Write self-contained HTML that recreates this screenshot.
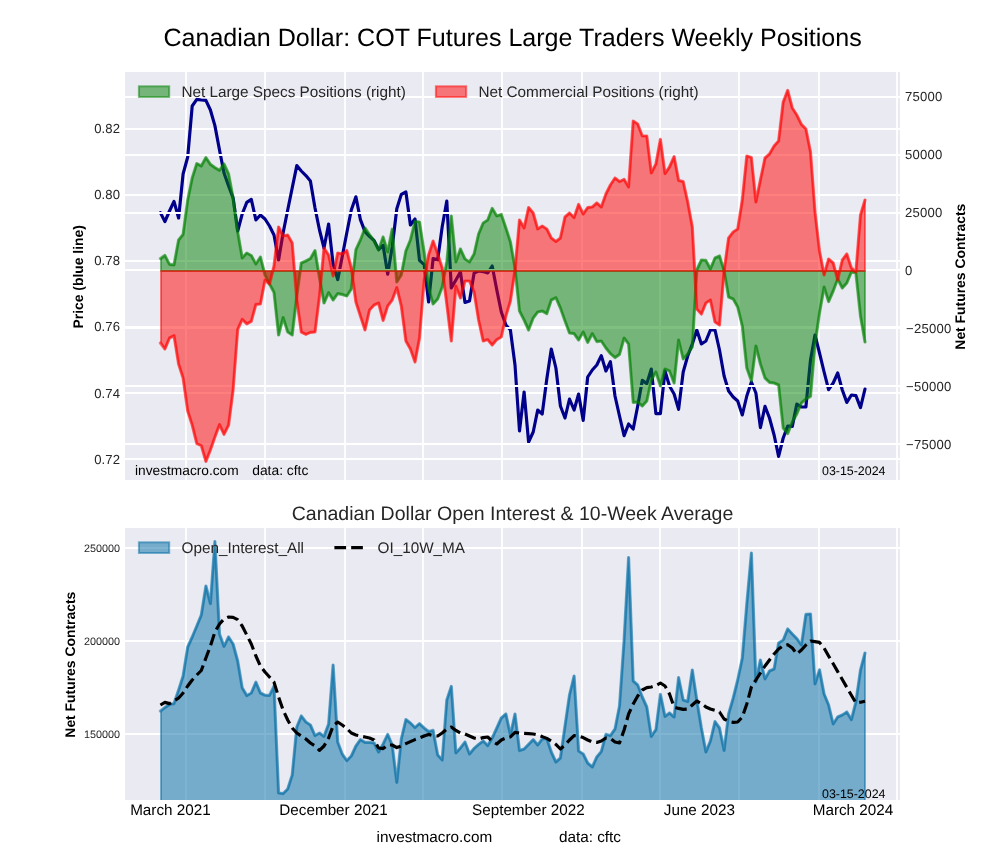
<!DOCTYPE html>
<html><head><meta charset="utf-8"><title>Canadian Dollar COT</title>
<style>
html,body{margin:0;padding:0;background:#fff;}
body{width:1000px;height:860px;overflow:hidden;}
svg{display:block;}
svg text{text-rendering:geometricPrecision;}
text{font-family:"Liberation Sans",sans-serif;fill:#262626;}
.b{font-weight:bold;fill:#000;}
.k{fill:#000;}
</style></head><body>
<svg width="1000" height="860" viewBox="0 0 1000 860">
<rect width="1000" height="860" fill="#fff"/>
<defs>
<mask id="mm" maskUnits="userSpaceOnUse" x="0" y="0" width="1000" height="860"><rect width="1000" height="860" fill="#fff"/></mask>
<clipPath id="c1"><rect x="125" y="72" width="775" height="408"/></clipPath>
<clipPath id="c2"><rect x="125" y="528" width="775" height="272"/></clipPath>
</defs>

<rect x="125" y="72" width="775" height="408" fill="#EAEAF2"/>
<g clip-path="url(#c1)">
<g stroke="#fff" stroke-width="1.8" fill="none">
<line x1="186" y1="72" x2="186" y2="480"/>
<line x1="265" y1="72" x2="265" y2="480"/>
<line x1="345" y1="72" x2="345" y2="480"/>
<line x1="423" y1="72" x2="423" y2="480"/>
<line x1="502" y1="72" x2="502" y2="480"/>
<line x1="582" y1="72" x2="582" y2="480"/>
<line x1="660" y1="72" x2="660" y2="480"/>
<line x1="739" y1="72" x2="739" y2="480"/>
<line x1="819" y1="72" x2="819" y2="480"/>
<line x1="897" y1="72" x2="897" y2="480"/>
<line x1="125" y1="129" x2="900" y2="129"/>
<line x1="125" y1="195" x2="900" y2="195"/>
<line x1="125" y1="261" x2="900" y2="261"/>
<line x1="125" y1="327" x2="900" y2="327"/>
<line x1="125" y1="393" x2="900" y2="393"/>
<line x1="125" y1="459" x2="900" y2="459"/>
</g>
<polyline points="160.4,212.6 164.9,221.6 169.5,211.0 174.0,201.4 178.6,218.0 183.1,174.0 187.7,157.0 192.2,106.0 196.8,99.4 201.3,100.0 205.9,100.4 210.4,110.0 214.9,125.6 219.5,150.0 224.0,173.0 228.6,186.0 233.1,198.0 237.7,231.0 242.2,214.0 246.8,202.4 251.3,199.4 255.9,220.0 260.4,215.0 265.0,219.0 269.5,226.0 274.0,235.0 278.6,260.0 283.1,233.0 287.7,210.0 292.2,188.0 296.8,165.6 301.3,171.0 305.9,175.6 310.4,181.0 315.0,208.0 319.5,230.0 324.0,248.0 328.6,224.0 333.1,264.0 337.7,279.6 342.2,256.8 346.8,232.8 351.3,210.0 355.9,196.8 360.4,219.6 365.0,231.6 369.5,236.4 374.1,240.6 378.6,249.6 383.1,245.4 387.7,274.2 392.2,247.0 396.8,208.8 401.3,194.4 405.9,192.0 410.4,225.0 415.0,219.0 419.5,260.4 424.1,264.6 428.6,302.0 433.1,258.6 437.7,259.8 442.2,226.8 446.8,201.0 451.3,288.0 455.9,280.0 460.4,272.0 465.0,302.4 469.5,301.0 474.1,273.0 478.6,271.0 483.2,271.6 487.7,273.0 492.2,266.0 496.8,290.0 501.3,312.0 505.9,325.0 510.4,330.0 515.0,365.0 519.5,431.0 524.1,392.0 528.6,442.0 533.2,432.0 537.7,410.0 542.2,414.0 546.8,379.0 551.3,349.0 555.9,368.0 560.4,406.0 565.0,418.0 569.5,399.0 574.1,410.0 578.6,394.0 583.2,420.4 587.7,377.0 592.3,370.0 596.8,365.0 601.3,355.6 605.9,371.0 610.4,361.6 615.0,396.0 619.5,416.0 624.1,435.6 628.6,424.0 633.2,429.0 637.7,406.0 642.3,380.4 646.8,383.6 651.3,369.0 655.9,413.6 660.4,413.6 665.0,371.0 669.5,386.0 674.1,394.0 678.6,409.4 683.2,372.0 687.7,356.0 692.3,344.0 696.8,330.0 701.4,344.0 705.9,341.0 710.4,330.0 715.0,330.0 719.5,350.0 724.1,376.0 728.6,391.0 733.2,397.0 737.7,401.0 742.3,415.0 746.8,396.0 751.4,382.0 755.9,393.0 760.4,427.6 765.0,406.4 769.5,418.0 774.1,435.0 778.6,456.4 783.2,438.0 787.7,426.0 792.3,426.4 796.8,404.0 801.4,407.0 805.9,407.0 810.5,360.0 815.0,335.0 819.5,353.0 824.1,372.0 828.6,389.6 833.2,383.0 837.7,373.0 842.3,390.0 846.8,402.4 851.4,395.0 855.9,395.6 860.5,407.6 865.0,389.0" fill="none" stroke="#00008B" stroke-width="3.16" stroke-linejoin="round" stroke-linecap="round"/>
<g stroke="#fff" stroke-width="1.8" fill="none">
<line x1="125" y1="97" x2="900" y2="97"/>
<line x1="125" y1="155" x2="900" y2="155"/>
<line x1="125" y1="213" x2="900" y2="213"/>
<line x1="125" y1="270" x2="900" y2="270"/>
<line x1="125" y1="328" x2="900" y2="328"/>
<line x1="125" y1="386" x2="900" y2="386"/>
<line x1="125" y1="444" x2="900" y2="444"/>
</g>
<polygon points="161.0,271.0 161.0,258.6 164.9,255.4 169.5,264.4 174.0,265.0 178.6,240.0 183.1,234.4 187.7,200.0 192.2,178.0 196.8,163.6 201.3,166.0 205.9,157.6 210.4,164.4 214.9,167.6 219.5,170.4 224.0,164.0 228.6,174.0 233.1,198.0 237.7,232.0 242.2,258.0 246.8,253.0 251.3,255.6 255.9,264.0 260.4,257.0 265.0,275.0 269.5,284.0 274.0,292.4 278.6,335.0 283.1,317.6 287.7,332.0 292.2,335.0 296.8,296.0 301.3,263.0 305.9,261.0 310.4,258.6 315.0,250.6 319.5,278.0 324.0,303.0 328.6,292.6 333.1,300.0 337.7,293.6 342.2,294.4 346.8,296.0 351.3,289.0 355.9,249.6 360.4,240.0 365.0,228.0 369.5,234.6 374.1,240.6 378.6,250.0 383.1,237.0 387.7,252.0 392.2,229.2 396.8,282.0 401.3,275.0 405.9,250.8 410.4,240.0 415.0,221.4 419.5,222.0 424.1,252.0 428.6,288.0 433.1,304.0 437.7,299.0 442.2,287.0 446.8,262.0 451.3,216.0 455.9,262.0 460.4,249.0 465.0,259.0 469.5,262.0 474.1,254.0 478.6,234.0 483.2,223.0 487.7,220.0 492.2,208.4 496.8,216.0 501.3,214.4 505.9,228.0 510.4,242.0 515.0,268.0 519.5,311.0 524.1,320.0 528.6,330.0 533.2,318.0 537.7,312.0 542.2,311.0 546.8,313.6 551.3,300.0 555.9,297.6 560.4,308.0 565.0,321.0 569.5,333.0 574.1,333.6 578.6,340.0 583.2,332.0 587.7,342.4 592.3,333.6 596.8,341.6 601.3,341.0 605.9,348.0 610.4,353.6 615.0,357.6 619.5,354.4 624.1,338.0 628.6,344.0 633.2,402.4 637.7,402.0 642.3,406.0 646.8,401.0 651.3,380.0 655.9,372.0 660.4,386.0 665.0,369.0 669.5,371.0 674.1,383.0 678.6,340.0 683.2,359.0 687.7,354.0 692.3,347.0 696.8,270.0 701.4,260.0 705.9,260.4 710.4,269.0 715.0,258.0 719.5,256.0 724.1,270.6 728.6,297.0 733.2,299.0 737.7,307.0 742.3,326.0 746.8,368.0 751.4,381.0 755.9,346.0 760.4,364.0 765.0,378.0 769.5,382.4 774.1,383.0 778.6,385.0 783.2,428.0 787.7,433.6 792.3,422.0 796.8,414.0 801.4,403.0 805.9,399.0 810.5,396.4 815.0,344.0 819.5,313.0 824.1,287.0 828.6,301.6 833.2,291.0 837.7,279.0 842.3,288.0 846.8,283.0 851.4,272.0 855.9,273.0 860.5,316.0 865.0,342.0 865.0,271.0" fill="#008000" fill-opacity="0.5" stroke="#008000" stroke-opacity="0.5" stroke-width="2.0" stroke-linejoin="round"/>
<polyline points="160.4,258.6 164.9,255.4 169.5,264.4 174.0,265.0 178.6,240.0 183.1,234.4 187.7,200.0 192.2,178.0 196.8,163.6 201.3,166.0 205.9,157.6 210.4,164.4 214.9,167.6 219.5,170.4 224.0,164.0 228.6,174.0 233.1,198.0 237.7,232.0 242.2,258.0 246.8,253.0 251.3,255.6 255.9,264.0 260.4,257.0 265.0,275.0 269.5,284.0 274.0,292.4 278.6,335.0 283.1,317.6 287.7,332.0 292.2,335.0 296.8,296.0 301.3,263.0 305.9,261.0 310.4,258.6 315.0,250.6 319.5,278.0 324.0,303.0 328.6,292.6 333.1,300.0 337.7,293.6 342.2,294.4 346.8,296.0 351.3,289.0 355.9,249.6 360.4,240.0 365.0,228.0 369.5,234.6 374.1,240.6 378.6,250.0 383.1,237.0 387.7,252.0 392.2,229.2 396.8,282.0 401.3,275.0 405.9,250.8 410.4,240.0 415.0,221.4 419.5,222.0 424.1,252.0 428.6,288.0 433.1,304.0 437.7,299.0 442.2,287.0 446.8,262.0 451.3,216.0 455.9,262.0 460.4,249.0 465.0,259.0 469.5,262.0 474.1,254.0 478.6,234.0 483.2,223.0 487.7,220.0 492.2,208.4 496.8,216.0 501.3,214.4 505.9,228.0 510.4,242.0 515.0,268.0 519.5,311.0 524.1,320.0 528.6,330.0 533.2,318.0 537.7,312.0 542.2,311.0 546.8,313.6 551.3,300.0 555.9,297.6 560.4,308.0 565.0,321.0 569.5,333.0 574.1,333.6 578.6,340.0 583.2,332.0 587.7,342.4 592.3,333.6 596.8,341.6 601.3,341.0 605.9,348.0 610.4,353.6 615.0,357.6 619.5,354.4 624.1,338.0 628.6,344.0 633.2,402.4 637.7,402.0 642.3,406.0 646.8,401.0 651.3,380.0 655.9,372.0 660.4,386.0 665.0,369.0 669.5,371.0 674.1,383.0 678.6,340.0 683.2,359.0 687.7,354.0 692.3,347.0 696.8,270.0 701.4,260.0 705.9,260.4 710.4,269.0 715.0,258.0 719.5,256.0 724.1,270.6 728.6,297.0 733.2,299.0 737.7,307.0 742.3,326.0 746.8,368.0 751.4,381.0 755.9,346.0 760.4,364.0 765.0,378.0 769.5,382.4 774.1,383.0 778.6,385.0 783.2,428.0 787.7,433.6 792.3,422.0 796.8,414.0 801.4,403.0 805.9,399.0 810.5,396.4 815.0,344.0 819.5,313.0 824.1,287.0 828.6,301.6 833.2,291.0 837.7,279.0 842.3,288.0 846.8,283.0 851.4,272.0 855.9,273.0 860.5,316.0 865.0,342.0" fill="none" stroke="#008000" stroke-opacity="0.5" stroke-width="3.16" stroke-linejoin="round" stroke-linecap="round"/>
<polygon points="161.0,271.0 161.0,343.0 164.9,349.0 169.5,338.0 174.0,335.6 178.6,364.0 183.1,378.0 187.7,411.0 192.2,425.0 196.8,443.6 201.3,445.6 205.9,461.4 210.4,450.0 214.9,437.0 219.5,424.6 224.0,434.4 228.6,425.0 233.1,390.0 237.7,329.5 242.2,319.3 246.8,323.8 251.3,321.3 255.9,304.4 260.4,304.0 265.0,280.0 269.5,284.0 274.0,266.0 278.6,227.0 283.1,236.0 287.7,235.0 292.2,243.0 296.8,300.0 301.3,332.0 305.9,334.4 310.4,332.4 315.0,332.0 319.5,296.0 324.0,248.0 328.6,255.0 333.1,276.0 337.7,253.0 342.2,254.0 346.8,250.5 351.3,268.0 355.9,302.0 360.4,316.0 365.0,330.0 369.5,310.0 374.1,305.0 378.6,303.0 383.1,320.4 387.7,306.0 392.2,300.0 396.8,287.6 401.3,306.0 405.9,341.0 410.4,349.0 415.0,362.0 419.5,338.0 424.1,280.0 428.6,255.0 433.1,241.0 437.7,254.0 442.2,268.0 446.8,304.0 451.3,341.0 455.9,286.0 460.4,298.0 465.0,281.0 469.5,281.0 474.1,292.0 478.6,320.0 483.2,341.0 487.7,339.6 492.2,345.0 496.8,339.6 501.3,337.0 505.9,316.0 510.4,301.0 515.0,270.0 519.5,220.0 524.1,228.0 528.6,207.5 533.2,213.0 537.7,229.0 542.2,226.0 546.8,229.0 551.3,238.0 555.9,241.6 560.4,238.0 565.0,217.0 569.5,213.0 574.1,217.6 578.6,204.4 583.2,214.0 587.7,207.6 592.3,207.0 596.8,203.0 601.3,207.0 605.9,194.0 610.4,185.0 615.0,178.0 619.5,181.6 624.1,179.4 628.6,187.0 633.2,121.0 637.7,124.0 642.3,136.0 646.8,136.0 651.3,173.0 655.9,164.0 660.4,139.4 665.0,173.6 669.5,167.0 674.1,156.6 678.6,180.4 683.2,181.6 687.7,202.0 692.3,227.0 696.8,309.0 701.4,314.0 705.9,303.0 710.4,300.0 715.0,322.0 719.5,325.0 724.1,271.0 728.6,238.0 733.2,232.0 737.7,229.0 742.3,200.0 746.8,156.0 751.4,157.6 755.9,202.0 760.4,180.0 765.0,158.0 769.5,154.0 774.1,146.0 778.6,141.0 783.2,102.0 787.7,90.4 792.3,108.0 796.8,115.0 801.4,124.4 805.9,129.0 810.5,152.0 815.0,212.0 819.5,251.0 824.1,275.0 828.6,259.0 833.2,263.0 837.7,280.0 842.3,260.0 846.8,254.0 851.4,268.0 855.9,272.0 860.5,215.0 865.0,200.0 865.0,271.0" fill="#FF0000" fill-opacity="0.5" stroke="#FF0000" stroke-opacity="0.5" stroke-width="2.0" stroke-linejoin="round"/>
<polyline points="160.4,343.0 164.9,349.0 169.5,338.0 174.0,335.6 178.6,364.0 183.1,378.0 187.7,411.0 192.2,425.0 196.8,443.6 201.3,445.6 205.9,461.4 210.4,450.0 214.9,437.0 219.5,424.6 224.0,434.4 228.6,425.0 233.1,390.0 237.7,329.5 242.2,319.3 246.8,323.8 251.3,321.3 255.9,304.4 260.4,304.0 265.0,280.0 269.5,284.0 274.0,266.0 278.6,227.0 283.1,236.0 287.7,235.0 292.2,243.0 296.8,300.0 301.3,332.0 305.9,334.4 310.4,332.4 315.0,332.0 319.5,296.0 324.0,248.0 328.6,255.0 333.1,276.0 337.7,253.0 342.2,254.0 346.8,250.5 351.3,268.0 355.9,302.0 360.4,316.0 365.0,330.0 369.5,310.0 374.1,305.0 378.6,303.0 383.1,320.4 387.7,306.0 392.2,300.0 396.8,287.6 401.3,306.0 405.9,341.0 410.4,349.0 415.0,362.0 419.5,338.0 424.1,280.0 428.6,255.0 433.1,241.0 437.7,254.0 442.2,268.0 446.8,304.0 451.3,341.0 455.9,286.0 460.4,298.0 465.0,281.0 469.5,281.0 474.1,292.0 478.6,320.0 483.2,341.0 487.7,339.6 492.2,345.0 496.8,339.6 501.3,337.0 505.9,316.0 510.4,301.0 515.0,270.0 519.5,220.0 524.1,228.0 528.6,207.5 533.2,213.0 537.7,229.0 542.2,226.0 546.8,229.0 551.3,238.0 555.9,241.6 560.4,238.0 565.0,217.0 569.5,213.0 574.1,217.6 578.6,204.4 583.2,214.0 587.7,207.6 592.3,207.0 596.8,203.0 601.3,207.0 605.9,194.0 610.4,185.0 615.0,178.0 619.5,181.6 624.1,179.4 628.6,187.0 633.2,121.0 637.7,124.0 642.3,136.0 646.8,136.0 651.3,173.0 655.9,164.0 660.4,139.4 665.0,173.6 669.5,167.0 674.1,156.6 678.6,180.4 683.2,181.6 687.7,202.0 692.3,227.0 696.8,309.0 701.4,314.0 705.9,303.0 710.4,300.0 715.0,322.0 719.5,325.0 724.1,271.0 728.6,238.0 733.2,232.0 737.7,229.0 742.3,200.0 746.8,156.0 751.4,157.6 755.9,202.0 760.4,180.0 765.0,158.0 769.5,154.0 774.1,146.0 778.6,141.0 783.2,102.0 787.7,90.4 792.3,108.0 796.8,115.0 801.4,124.4 805.9,129.0 810.5,152.0 815.0,212.0 819.5,251.0 824.1,275.0 828.6,259.0 833.2,263.0 837.7,280.0 842.3,260.0 846.8,254.0 851.4,268.0 855.9,272.0 860.5,215.0 865.0,200.0" fill="none" stroke="#FF0000" stroke-opacity="0.5" stroke-width="3.16" stroke-linejoin="round" stroke-linecap="round"/>
</g>
<rect x="138.9" y="86.3" width="30.3" height="10.7" fill="#008000" fill-opacity="0.5" stroke="#008000" stroke-opacity="0.5" stroke-width="2.0"/>
<rect x="435.9" y="86.3" width="30.3" height="10.7" fill="#FF0000" fill-opacity="0.5" stroke="#FF0000" stroke-opacity="0.5" stroke-width="2.0"/>
<rect x="125" y="528" width="775" height="272" fill="#EAEAF2"/>
<g clip-path="url(#c2)">
<g stroke="#fff" stroke-width="1.8" fill="none">
<line x1="186" y1="528" x2="186" y2="800"/>
<line x1="265" y1="528" x2="265" y2="800"/>
<line x1="345" y1="528" x2="345" y2="800"/>
<line x1="423" y1="528" x2="423" y2="800"/>
<line x1="502" y1="528" x2="502" y2="800"/>
<line x1="582" y1="528" x2="582" y2="800"/>
<line x1="660" y1="528" x2="660" y2="800"/>
<line x1="739" y1="528" x2="739" y2="800"/>
<line x1="819" y1="528" x2="819" y2="800"/>
<line x1="897" y1="528" x2="897" y2="800"/>
<line x1="125" y1="548" x2="900" y2="548"/>
<line x1="125" y1="641" x2="900" y2="641"/>
<line x1="125" y1="734" x2="900" y2="734"/>
</g>
<polygon points="161.0,900 161.0,711.0 164.9,707.6 169.5,704.4 174.0,703.6 178.6,690.0 183.1,676.0 187.7,647.0 192.2,637.0 196.8,626.0 201.3,615.0 205.9,586.0 210.4,603.6 214.9,541.6 219.5,634.0 224.0,646.4 228.6,637.0 233.1,644.0 237.7,661.0 242.2,687.8 246.8,695.6 251.3,693.0 255.9,682.2 260.4,693.0 265.0,695.2 269.5,695.4 274.0,686.2 278.6,793.0 283.1,793.6 287.7,789.0 292.2,775.0 296.8,727.0 301.3,716.0 305.9,722.0 310.4,725.0 315.0,735.6 319.5,733.0 324.0,736.4 328.6,724.0 333.1,665.0 337.7,742.0 342.2,754.0 346.8,760.6 351.3,756.0 355.9,746.0 360.4,739.6 365.0,742.4 369.5,742.4 374.1,743.0 378.6,752.0 383.1,744.0 387.7,734.4 392.2,745.0 396.8,782.4 401.3,739.0 405.9,719.6 410.4,723.0 415.0,727.6 419.5,723.6 424.1,728.0 428.6,731.6 433.1,730.4 437.7,755.0 442.2,760.0 446.8,700.0 451.3,686.4 455.9,753.0 460.4,748.0 465.0,742.0 469.5,754.0 474.1,748.4 478.6,744.4 483.2,741.0 487.7,745.6 492.2,738.0 496.8,728.0 501.3,718.0 505.9,714.0 510.4,735.0 515.0,714.0 519.5,750.6 524.1,749.0 528.6,744.4 533.2,739.6 537.7,745.0 542.2,739.0 546.8,738.4 551.3,752.0 555.9,762.0 560.4,758.0 565.0,726.0 569.5,695.0 574.1,676.0 578.6,751.0 583.2,754.0 587.7,763.0 592.3,767.0 596.8,757.0 601.3,751.6 605.9,734.4 610.4,735.6 615.0,729.0 619.5,706.0 624.1,640.0 628.6,557.6 633.2,681.0 637.7,685.0 642.3,697.0 646.8,707.0 651.3,736.4 655.9,729.6 660.4,694.4 665.0,716.4 669.5,713.0 674.1,717.0 678.6,677.6 683.2,700.0 687.7,701.6 692.3,670.0 696.8,700.0 701.4,728.0 705.9,752.0 710.4,741.0 715.0,721.6 719.5,728.0 724.1,750.4 728.6,714.0 733.2,698.0 737.7,680.0 742.3,658.0 746.8,604.0 751.4,553.0 755.9,682.0 760.4,660.0 765.0,679.0 769.5,671.0 774.1,669.0 778.6,643.0 783.2,640.0 787.7,629.0 792.3,634.0 796.8,638.6 801.4,645.0 805.9,614.4 810.5,614.0 815.0,684.0 819.5,669.8 824.1,694.0 828.6,705.0 833.2,724.0 837.7,717.0 842.3,715.0 846.8,712.0 851.4,719.6 855.9,702.0 860.5,670.0 865.0,653.0 865.0,900" fill="#006BA4" fill-opacity="0.5" stroke="#006BA4" stroke-opacity="0.5" stroke-width="2.0" stroke-linejoin="round"/>
<polyline points="160.4,711.0 164.9,707.6 169.5,704.4 174.0,703.6 178.6,690.0 183.1,676.0 187.7,647.0 192.2,637.0 196.8,626.0 201.3,615.0 205.9,586.0 210.4,603.6 214.9,541.6 219.5,634.0 224.0,646.4 228.6,637.0 233.1,644.0 237.7,661.0 242.2,687.8 246.8,695.6 251.3,693.0 255.9,682.2 260.4,693.0 265.0,695.2 269.5,695.4 274.0,686.2 278.6,793.0 283.1,793.6 287.7,789.0 292.2,775.0 296.8,727.0 301.3,716.0 305.9,722.0 310.4,725.0 315.0,735.6 319.5,733.0 324.0,736.4 328.6,724.0 333.1,665.0 337.7,742.0 342.2,754.0 346.8,760.6 351.3,756.0 355.9,746.0 360.4,739.6 365.0,742.4 369.5,742.4 374.1,743.0 378.6,752.0 383.1,744.0 387.7,734.4 392.2,745.0 396.8,782.4 401.3,739.0 405.9,719.6 410.4,723.0 415.0,727.6 419.5,723.6 424.1,728.0 428.6,731.6 433.1,730.4 437.7,755.0 442.2,760.0 446.8,700.0 451.3,686.4 455.9,753.0 460.4,748.0 465.0,742.0 469.5,754.0 474.1,748.4 478.6,744.4 483.2,741.0 487.7,745.6 492.2,738.0 496.8,728.0 501.3,718.0 505.9,714.0 510.4,735.0 515.0,714.0 519.5,750.6 524.1,749.0 528.6,744.4 533.2,739.6 537.7,745.0 542.2,739.0 546.8,738.4 551.3,752.0 555.9,762.0 560.4,758.0 565.0,726.0 569.5,695.0 574.1,676.0 578.6,751.0 583.2,754.0 587.7,763.0 592.3,767.0 596.8,757.0 601.3,751.6 605.9,734.4 610.4,735.6 615.0,729.0 619.5,706.0 624.1,640.0 628.6,557.6 633.2,681.0 637.7,685.0 642.3,697.0 646.8,707.0 651.3,736.4 655.9,729.6 660.4,694.4 665.0,716.4 669.5,713.0 674.1,717.0 678.6,677.6 683.2,700.0 687.7,701.6 692.3,670.0 696.8,700.0 701.4,728.0 705.9,752.0 710.4,741.0 715.0,721.6 719.5,728.0 724.1,750.4 728.6,714.0 733.2,698.0 737.7,680.0 742.3,658.0 746.8,604.0 751.4,553.0 755.9,682.0 760.4,660.0 765.0,679.0 769.5,671.0 774.1,669.0 778.6,643.0 783.2,640.0 787.7,629.0 792.3,634.0 796.8,638.6 801.4,645.0 805.9,614.4 810.5,614.0 815.0,684.0 819.5,669.8 824.1,694.0 828.6,705.0 833.2,724.0 837.7,717.0 842.3,715.0 846.8,712.0 851.4,719.6 855.9,702.0 860.5,670.0 865.0,653.0" fill="none" stroke="#006BA4" stroke-opacity="0.5" stroke-width="3.16" stroke-linejoin="round" stroke-linecap="round"/>
<polyline points="160.4,705.0 164.9,702.4 169.5,703.6 174.0,701.0 178.6,698.0 183.1,693.0 187.7,686.0 192.2,680.0 196.8,675.0 201.3,670.5 205.9,658.0 210.4,646.0 214.9,632.0 219.5,624.0 224.0,619.0 228.6,617.0 233.1,617.4 237.7,619.6 242.2,626.0 246.8,635.0 251.3,644.0 255.9,656.0 260.4,666.0 265.0,672.0 269.5,677.0 274.0,682.2 278.6,697.0 283.1,710.0 287.7,720.0 292.2,728.0 296.8,733.0 301.3,736.0 305.9,739.0 310.4,743.0 315.0,746.0 319.5,750.4 324.0,746.0 328.6,738.0 333.1,726.0 337.7,722.0 342.2,725.0 346.8,728.5 351.3,733.0 355.9,735.0 360.4,736.0 365.0,737.0 369.5,738.0 374.1,740.0 378.6,748.0 383.1,748.6 387.7,745.0 392.2,745.0 396.8,747.6 401.3,746.0 405.9,743.6 410.4,741.6 415.0,739.6 419.5,738.0 424.1,736.0 428.6,734.4 433.1,735.6 437.7,736.0 442.2,733.0 446.8,729.0 451.3,727.0 455.9,730.4 460.4,733.0 465.0,734.0 469.5,736.0 474.1,738.0 478.6,739.0 483.2,737.6 487.7,737.0 492.2,741.0 496.8,744.0 501.3,740.0 505.9,738.0 510.4,737.0 515.0,732.4 519.5,733.0 524.1,733.4 528.6,733.6 533.2,734.0 537.7,735.0 542.2,736.6 546.8,738.4 551.3,741.0 555.9,744.4 560.4,749.0 565.0,745.0 569.5,740.0 574.1,735.6 578.6,736.0 583.2,737.6 587.7,740.0 592.3,742.0 596.8,742.4 601.3,741.0 605.9,738.0 610.4,738.4 615.0,742.0 619.5,743.0 624.1,730.0 628.6,714.0 633.2,704.0 637.7,696.0 642.3,690.0 646.8,687.6 651.3,687.0 655.9,685.6 660.4,683.0 665.0,686.0 669.5,694.0 674.1,707.0 678.6,708.4 683.2,709.4 687.7,709.0 692.3,705.0 696.8,701.0 701.4,703.6 705.9,707.0 710.4,709.0 715.0,710.4 719.5,712.0 724.1,719.0 728.6,721.4 733.2,722.4 737.7,722.0 742.3,717.0 746.8,704.0 751.4,687.0 755.9,680.0 760.4,673.0 765.0,666.0 769.5,660.0 774.1,654.0 778.6,649.0 783.2,645.6 787.7,644.7 792.3,648.0 796.8,654.0 801.4,650.0 805.9,645.0 810.5,641.0 815.0,641.6 819.5,642.4 824.1,648.0 828.6,656.0 833.2,663.8 837.7,671.6 842.3,679.5 846.8,687.4 851.4,695.2 855.9,703.0 860.5,702.2 865.0,701.2" fill="none" stroke="#000" stroke-width="3.16" stroke-dasharray="11.64,5.034" stroke-linejoin="round"/>
</g>
<rect x="138.9" y="542.3" width="30.3" height="10.7" fill="#006BA4" fill-opacity="0.5" stroke="#006BA4" stroke-opacity="0.5" stroke-width="2.0"/>
<line x1="334.4" y1="547.6" x2="364.9" y2="547.6" stroke="#000" stroke-width="3.16" stroke-dasharray="11.7,5.06"/>
<g mask="url(#mm)">
<text x="120.1" y="132.9" font-size="13.1" letter-spacing="0.12" text-anchor="end">0.82</text>
<text x="120.1" y="199.1" font-size="13.1" letter-spacing="0.12" text-anchor="end">0.80</text>
<text x="120.1" y="265.2" font-size="13.1" letter-spacing="0.12" text-anchor="end">0.78</text>
<text x="120.1" y="331.4" font-size="13.1" letter-spacing="0.12" text-anchor="end">0.76</text>
<text x="120.1" y="397.5" font-size="13.1" letter-spacing="0.12" text-anchor="end">0.74</text>
<text x="120.1" y="463.7" font-size="13.1" letter-spacing="0.12" text-anchor="end">0.72</text>
<text x="904.9" y="100.6" font-size="13.1" letter-spacing="0.25">75000</text>
<text x="904.9" y="158.6" font-size="13.1" letter-spacing="0.25">50000</text>
<text x="904.9" y="216.6" font-size="13.1" letter-spacing="0.25">25000</text>
<text x="904.9" y="274.6" font-size="13.1" letter-spacing="0.25">0</text>
<text x="906.0" y="332.6" font-size="13.1" letter-spacing="0.25">−25000</text>
<text x="906.0" y="390.6" font-size="13.1" letter-spacing="0.25">−50000</text>
<text x="906.0" y="448.6" font-size="13.1" letter-spacing="0.25">−75000</text>
<text class="b" transform="translate(83.0,276.8) rotate(-90)" font-size="13.9" text-anchor="middle">Price (blue line)</text>
<text class="b" transform="translate(965.3,276.7) rotate(-90)" font-size="13.9" text-anchor="middle">Net Futures Contracts</text>
<text class="k" x="512.6" y="46" font-size="25.07" text-anchor="middle">Canadian Dollar: COT Futures Large Traders Weekly Positions</text>
<text x="181.4" y="97.0" font-size="15.3">Net Large Specs Positions (right)</text>
<text x="478.4" y="97.0" font-size="15.3">Net Commercial Positions (right)</text>
<text class="k" x="135.0" y="475" font-size="13.72">investmacro.com</text>
<text class="k" x="252.2" y="475" font-size="13.85">data: cftc</text>
<text class="k" x="822.0" y="475" font-size="12.42">03-15-2024</text>
<text x="120.1" y="551.9" font-size="10.8" text-anchor="end">250000</text>
<text x="120.1" y="644.9" font-size="10.8" text-anchor="end">200000</text>
<text x="120.1" y="737.9" font-size="10.8" text-anchor="end">150000</text>
<text class="b" transform="translate(74.7,664.7) rotate(-90)" font-size="13.9" text-anchor="middle">Net Futures Contracts</text>
<text x="512.5" y="519.6" font-size="19.5" text-anchor="middle">Canadian Dollar Open Interest &amp; 10-Week Average</text>
<text x="181.5" y="552.6" font-size="15.3">Open_Interest_All</text>
<text x="377.5" y="552.6" font-size="15.3">OI_10W_MA</text>
<text class="k" x="170.4" y="815.0" font-size="15.25" text-anchor="middle">March 2021</text>
<text class="k" x="333.6" y="815.0" font-size="15.25" text-anchor="middle">December 2021</text>
<text class="k" x="528.4" y="815.0" font-size="15.25" text-anchor="middle">September 2022</text>
<text class="k" x="699.4" y="815.0" font-size="15.25" text-anchor="middle">June 2023</text>
<text class="k" x="853" y="815.0" font-size="15.25" text-anchor="middle">March 2024</text>
<text class="k" x="822.0" y="797.5" font-size="12.42">03-15-2024</text>
<text class="k" x="376.6" y="842.2" font-size="15.3">investmacro.com</text>
<text class="k" x="558.9" y="842.2" font-size="15.3">data: cftc</text>
</g>
</svg></body></html>
